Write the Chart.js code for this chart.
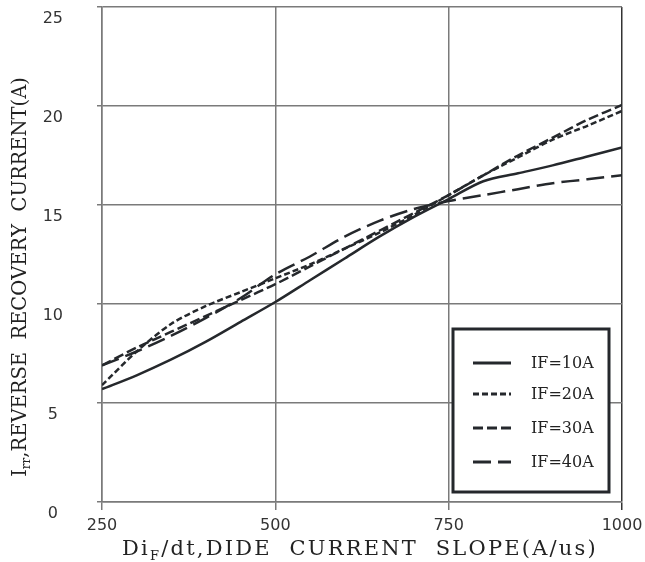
<!DOCTYPE html>
<html>
<head>
<meta charset="utf-8">
<script src="https://cdn.jsdelivr.net/npm/chart.js@4.4.1/dist/chart.umd.min.js"></script>
<style>
  html, body { margin: 0; padding: 0; background: #fff; }
  #wrap { width: 645px; height: 562px; }
</style>
</head>
<body>
<div id="wrap"><canvas id="chart" width="645" height="562"></canvas></div>
<script>
// dIF/dt (A/us)
var slopes = [250, 300, 350, 400, 450, 500, 550, 600, 650, 700, 750, 800, 850, 900, 950, 1000];

// Irr (A) for each forward current
var if10 = [5.7, 6.4, 7.2, 8.1, 9.1, 10.1, 11.2, 12.3, 13.4, 14.4, 15.3, 16.2, 16.6, 17.0, 17.45, 17.9];
var if20 = [5.9, 7.6, 9.0, 9.9, 10.6, 11.3, 12.0, 12.8, 13.6, 14.5, 15.5, 16.5, 17.4, 18.3, 19.0, 19.75];
var if30 = [6.9, 7.8, 8.6, 9.4, 10.2, 11.0, 11.9, 12.8, 13.7, 14.6, 15.5, 16.5, 17.5, 18.4, 19.3, 20.05];
var if40 = [6.9, 7.6, 8.4, 9.3, 10.3, 11.5, 12.4, 13.4, 14.2, 14.8, 15.2, 15.5, 15.8, 16.1, 16.3, 16.5];

var seriesLabels = ["IF=10A", "IF=20A", "IF=30A", "IF=40A"];
var yTicks = [0, 5, 10, 15, 20, 25];
var xTicks = [250, 500, 750, 1000];

var lineColor = "#25282c";
var gridColor = "#7a7a7a";

function toPoints(ys) {
    return slopes.map(function (x, i) { return { x: x, y: ys[i] }; });
}

function makeSet(label, ys, dash) {
    return {
        label: label,
        data: toPoints(ys),
        borderColor: lineColor,
        borderWidth: 2.5,
        borderDash: dash,
        pointRadius: 0,
        tension: 0.3,
        fill: false
    };
}

// draws text made of normal + subscript parts, centred on (0,0) of the current transform,
// char by char so a bit of extra spacing can be added
function drawParts(ctx, parts, size, family, spacing) {
    var subSize = Math.round(size * 0.62);
    var total = 0;
    parts.forEach(function (p) {
        ctx.font = (p.sub ? subSize : size) + "px " + family;
        p.widths = p.t.split("").map(function (ch) { return ctx.measureText(ch).width + spacing; });
        p.widths.forEach(function (w) { total += w; });
    });
    var x = -total / 2;
    ctx.textAlign = "left";
    ctx.textBaseline = "alphabetic";
    parts.forEach(function (p) {
        ctx.font = (p.sub ? subSize : size) + "px " + family;
        p.t.split("").forEach(function (ch, i) {
            ctx.fillText(ch, x, p.sub ? size * 0.22 : 0);
            x += p.widths[i];
        });
    });
}

var titlesPlugin = {
    id: "axisTitles",
    afterDraw: function (chart) {
        var ctx = chart.ctx;
        ctx.save();
        ctx.fillStyle = "#222";
        ctx.translate(360, 555);
        drawParts(ctx, [{t: "Di"}, {t: "F", sub: true}, {t: "/dt,DIDE  CURRENT  SLOPE(A/us)"}], 21, "'DejaVu Serif'", 2.2);
        ctx.restore();

        ctx.save();
        ctx.fillStyle = "#222";
        ctx.translate(26, 277);
        ctx.rotate(-Math.PI / 2);
        drawParts(ctx, [{t: "I"}, {t: "rr", sub: true}, {t: ",REVERSE  RECOVERY  CURRENT(A)"}], 19.5, "'DejaVu Serif'", 0);
        ctx.restore();
    }
};

var legendPlugin = {
    id: "boxLegend",
    afterDraw: function (chart) {
        var ctx = chart.ctx;
        var bx = 453, by = 329, bw = 156, bh = 163;
        ctx.save();
        ctx.fillStyle = "#fff";
        ctx.fillRect(bx, by, bw, bh);
        ctx.strokeStyle = "#25282c";
        ctx.lineWidth = 3;
        ctx.strokeRect(bx, by, bw, bh);
        var rows = [363, 394, 428, 462];
        chart.data.datasets.forEach(function (ds, i) {
            ctx.beginPath();
            ctx.setLineDash(ds.borderDash || []);
            ctx.lineWidth = 3;
            ctx.strokeStyle = ds.borderColor;
            ctx.moveTo(473, rows[i]);
            ctx.lineTo(511, rows[i]);
            ctx.stroke();
            ctx.setLineDash([]);
            ctx.fillStyle = "#222";
            ctx.font = "16px 'DejaVu Serif'";
            ctx.textAlign = "left";
            ctx.textBaseline = "middle";
            ctx.fillText(ds.label, 531, rows[i] + 1);
        });
        ctx.restore();
    }
};

function noPad(scale) {
    scale.paddingTop = 0;
    scale.paddingBottom = 0;
    scale.paddingLeft = 0;
    scale.paddingRight = 0;
}

new Chart(document.getElementById("chart"), {
    type: "line",
    data: {
        datasets: [
            makeSet(seriesLabels[0], if10, []),
            makeSet(seriesLabels[1], if20, [6, 3]),
            makeSet(seriesLabels[2], if30, [10, 4]),
            makeSet(seriesLabels[3], if40, [18, 7])
        ]
    },
    options: {
        responsive: false,
        animation: false,
        layout: { padding: { left: 0, right: 23, top: 7, bottom: 0 } },
        plugins: {
            legend: { display: false },
            tooltip: { enabled: false }
        },
        scales: {
            x: {
                type: "linear",
                min: xTicks[0],
                max: xTicks[xTicks.length - 1],
                afterBuildTicks: function (scale) {
                    scale.ticks = xTicks.map(function (v) { return { value: v }; });
                },
                afterFit: function (scale) { scale.height = 60; noPad(scale); },
                border: { color: gridColor, width: 1.5 },
                grid: {
                    color: function (c) { return c.tick && c.tick.value === 1000 ? "#333" : gridColor; },
                    lineWidth: 1.5,
                    tickLength: 8
                },
                ticks: {
                    padding: 6,
                    color: "#333",
                    font: { family: "'DejaVu Sans'", size: 16 },
                    callback: function (v) { return String(v); }
                }
            },
            y: {
                type: "linear",
                min: yTicks[0],
                max: yTicks[yTicks.length - 1],
                afterBuildTicks: function (scale) {
                    scale.ticks = yTicks.map(function (v) { return { value: v }; });
                },
                afterFit: function (scale) { scale.width = 102; noPad(scale); },
                border: { color: gridColor, width: 1.5 },
                grid: {
                    color: gridColor,
                    lineWidth: 1.5,
                    tickLength: 5
                },
                ticks: {
                    padding: 34,
                    crossAlign: "center",
                    labelOffset: 12,
                    color: "#333",
                    font: { family: "'DejaVu Sans'", size: 16 },
                    callback: function (v) { return String(v); }
                }
            }
        }
    },
    plugins: [titlesPlugin, legendPlugin]
});
</script>
</body>
</html>
